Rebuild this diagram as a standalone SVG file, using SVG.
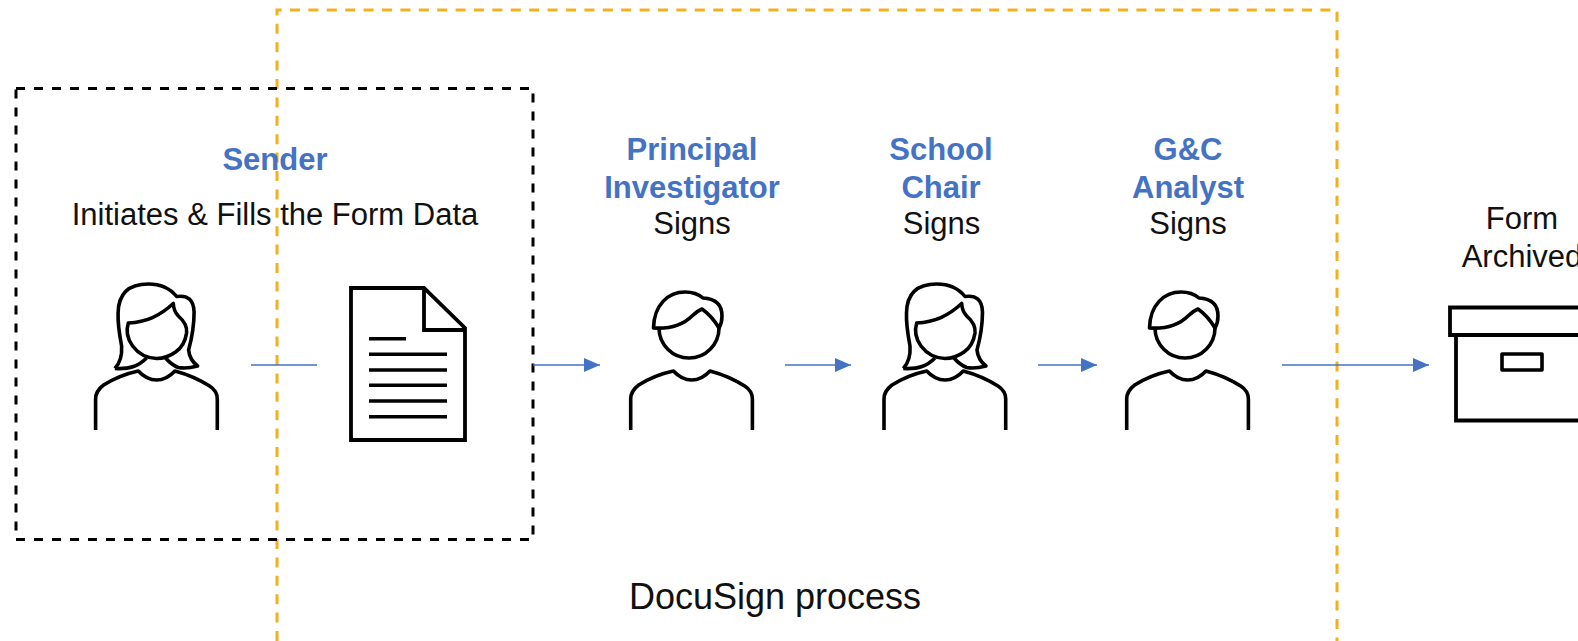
<svg xmlns="http://www.w3.org/2000/svg" width="1578" height="641" viewBox="0 0 1578 641">
<style>
text{font-family:"Liberation Sans",Arial,sans-serif;font-size:31px;fill:#111;text-anchor:middle}
.b{font-weight:bold;fill:#4472c4}
.i{fill:none;stroke:#000;stroke-width:3.6;stroke-linejoin:round}
.c{fill:none;stroke:#4472c4;stroke-width:1.5}
.t{fill:none;stroke:#000;stroke-width:3.8}
</style>
<defs>
<marker id="a" markerUnits="userSpaceOnUse" markerWidth="16" markerHeight="16" refX="16" refY="8" orient="auto"><path d="M0 1L16 8L0 15Z" fill="#4472c4"/></marker>
<g id="body"><path class="i" d="M884 430V399Q884 391 892 385Q908 375 926.7 371Q935 380 945 380Q955 380 963.3 371Q982 376 998 386Q1005.7 391 1005.7 399V430"/></g>
<g id="woman"><use href="#body"/>
<path class="i" d="M903.3 368.5Q911 360 910 346Q906 325 906.5 313Q907 284 936.7 284Q955 284 965 296.5Q982 294 982.5 312Q982.5 330 977 350Q978 360 986 366Q975 369 966.7 367.5Q960 365 954 358"/>
<path class="i" d="M903.3 368.5Q915 369 922 366.5Q929 364 935 358"/>
<path class="i" d="M916.7 323C935 322 948 316 961.7 303.5Q962 311 966.7 316Q976 324 975 333Q973 346 964 352Q955 358.5 945 358.5Q930 358 921 346Q913 335 916.7 323Z"/></g>
<g id="man"><use href="#body" x="-253.3"/>
<circle class="i" cx="689" cy="328" r="30"/>
<path class="i" d="M653.5 328C654 305 668 292 685 292Q696 292 703 298Q722 299 722 316Q722 323 719 328Q712 316 702 309Q697 311 692 316C682 326 670 329 653.5 328Z" style="fill:#fff"/></g>
</defs>
<g id="regions">
<path id="docusign-region" d="M277 641V10H1337V660" fill="none" stroke="#f2b01e" stroke-width="3" stroke-dasharray="10 8.4"/>
<rect id="sender-region" x="16" y="88.5" width="517" height="451" fill="none" stroke="#000" stroke-width="3" stroke-dasharray="9 9"/>
</g>
<g id="connectors">
<path class="c" d="M251 365H317"/>
<path class="c" d="M533 365H600" marker-end="url(#a)"/>
<path class="c" d="M785 365H851" marker-end="url(#a)"/>
<path class="c" d="M1038 365H1097" marker-end="url(#a)"/>
<path class="c" d="M1282 365H1429" marker-end="url(#a)"/>
</g>
<g id="sender"><text class="b" x="275" y="169.5">Sender</text><text x="275" y="224.5">Initiates &amp; Fills the Form Data</text><use href="#woman" x="-788.4"/></g>
<g id="form"><path class="t" d="M351 288H424L465 328V440H351Z"/><path class="t" d="M424 288V330H465"/><path d="M369 338.7H406M369 354.3H447M369 370H447M369 385.3H447M369 401H447M369 416.7H447" fill="none" stroke="#000" stroke-width="3.4"/></g>
<g id="pi"><text class="b" x="692" y="159.5">Principal</text><text class="b" x="692" y="197.5">Investigator</text><text x="692" y="234">Signs</text><use href="#man"/></g>
<g id="chair"><text class="b" x="941" y="159.5">School</text><text class="b" x="941" y="197.5">Chair</text><text x="941.5" y="234">Signs</text><use href="#woman"/></g>
<g id="analyst"><text class="b" x="1188" y="159.5">G&amp;C</text><text class="b" x="1188" y="197.5">Analyst</text><text x="1188" y="234">Signs</text><use href="#man" x="496"/></g>
<g id="archive"><text x="1522" y="229">Form</text><text x="1522" y="267">Archived</text><path class="t" d="M1590 307.5H1450V335H1590M1456 335V420.5H1590"/><rect class="i" x="1502" y="354" width="40" height="16"/></g>
<text id="process-label" x="775" y="609" style="font-size:36px">DocuSign process</text>
</svg>
